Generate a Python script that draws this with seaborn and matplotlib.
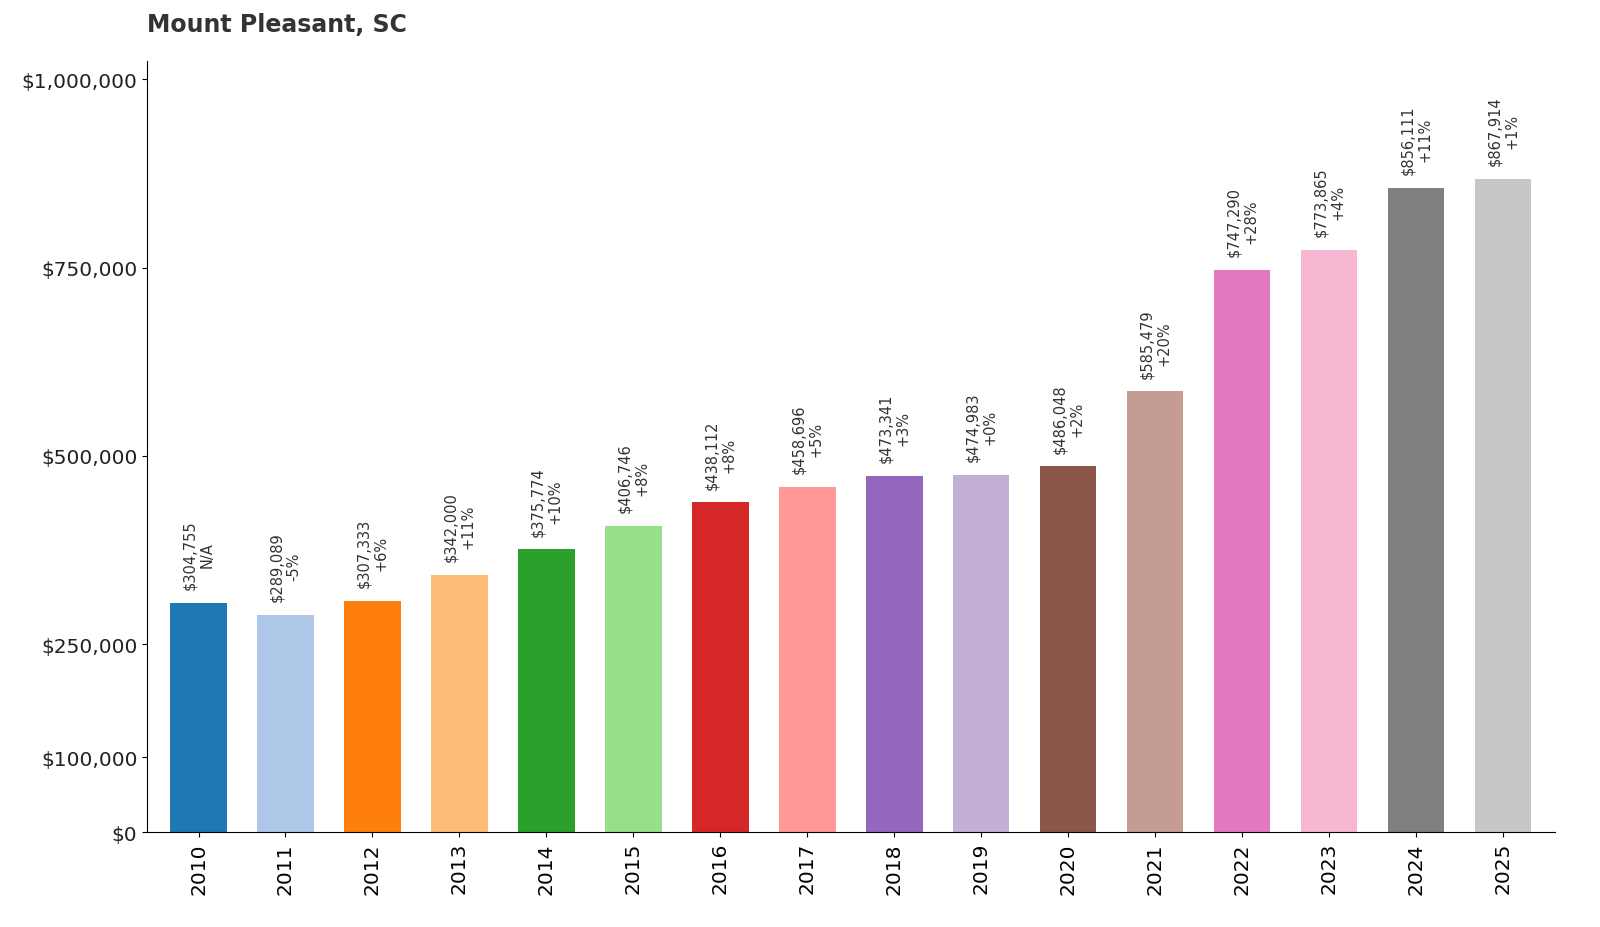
import numpy as np
import pandas as pd
import seaborn as sns
import matplotlib.pyplot as plt

years = [str(y) for y in range(2010, 2026)]
values = [304755, 289089, 307333, 342000, 375774, 406746, 438112, 458696,
          473341, 474983, 486048, 585479, 747290, 773865, 856111, 867914]
changes = ["N/A", "-5%", "+6%", "+11%", "+10%", "+8%", "+8%", "+5%",
           "+3%", "+0%", "+2%", "+20%", "+28%", "+4%", "+11%", "+1%"]

df = pd.DataFrame({"year": years, "value": values})
colors = plt.get_cmap("tab20").colors[:16]

fig = plt.figure(figsize=(16, 9.28), dpi=100)
ax = fig.add_axes([0.092, 0.102, 0.880, 0.831])
sns.barplot(data=df, x="year", y="value", hue="year", palette=list(colors),
            legend=False, width=0.65, saturation=1, ax=ax)

for i, (v, c) in enumerate(zip(values, changes)):
    ax.text(i, v + 18000, f"${v:,}\n{c}", rotation=90, ha="center", va="bottom",
            fontsize=10.5, color="#333333", linespacing=1.2)

ax.set_ylim(0, 1024000)
ax.set_xlim(-0.59, 15.6)
ticks = [0, 100000, 250000, 500000, 750000, 1000000]
ax.set_yticks(ticks)
ax.set_yticklabels([f"${t:,}" for t in ticks], fontsize=14.5, color="#222222")
ax.tick_params(axis="x", labelrotation=90, labelsize=14.5)
ax.set_xlabel("")
ax.set_ylabel("")
ax.spines["top"].set_visible(False)
ax.spines["right"].set_visible(False)
fig.text(0.092, 0.965, "Mount Pleasant, SC", fontsize=17, fontweight="bold",
         color="#333333", ha="left")
fig.savefig("out.png", dpi=100)
